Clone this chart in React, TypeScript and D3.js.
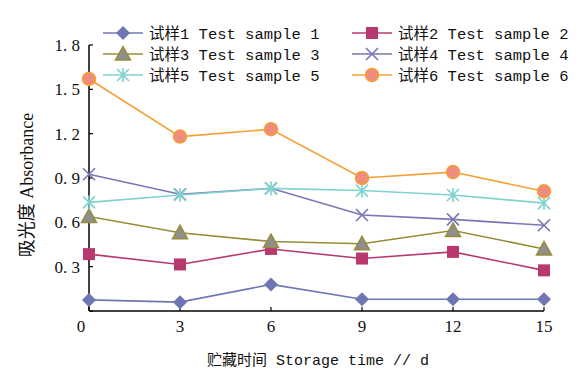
import React from "react";
import * as d3 from "d3";

const days = [0, 3, 6, 9, 12, 15];
const sample1 = [0.075, 0.06, 0.18, 0.08, 0.08, 0.08];
const sample2 = [0.385, 0.315, 0.42, 0.355, 0.4, 0.275];
const sample3 = [0.64, 0.53, 0.47, 0.455, 0.545, 0.42];
const sample4 = [0.925, 0.79, 0.83, 0.65, 0.62, 0.58];
const sample5 = [0.735, 0.785, 0.83, 0.815, 0.785, 0.73];
const sample6 = [1.57, 1.18, 1.23, 0.9, 0.94, 0.81];
const seriesNames = [
  "试样1 Test sample 1",
  "试样2 Test sample 2",
  "试样3 Test sample 3",
  "试样4 Test sample 4",
  "试样5 Test sample 5",
  "试样6 Test sample 6",
];
const yTicks = [0, 0.3, 0.6, 0.9, 1.2, 1.5, 1.8];
const xTicks = [0, 3, 6, 9, 12, 15];

type Style = { line: string; fill: string; marker: string };
const styles: Style[] = [
  { line: "#6f76b4", fill: "#6f76b4", marker: "diamond" },
  { line: "#b8386f", fill: "#b8386f", marker: "square" },
  { line: "#9a8c36", fill: "#8e8e8e", marker: "triangle" },
  { line: "#7876b6", fill: "none", marker: "x" },
  { line: "#7ed3cf", fill: "none", marker: "asterisk" },
  { line: "#f5a034", fill: "#f08c7e", marker: "circle" },
];

function Marker({ x, y, s }: { x: number; y: number; s: Style }) {
  switch (s.marker) {
    case "diamond":
      return <path d={`M${x},${y - 7}L${x + 7},${y}L${x},${y + 7}L${x - 7},${y}Z`} fill={s.fill} />;
    case "square":
      return <rect x={x - 6} y={y - 6} width={12} height={12} fill={s.fill} />;
    case "triangle":
      return (
        <path
          d={`M${x},${y - 7.5}L${x + 7.5},${y + 6}L${x - 7.5},${y + 6}Z`}
          fill={s.fill}
          stroke={s.line}
          strokeWidth={1.5}
        />
      );
    case "x":
      return (
        <path
          d={`M${x - 6},${y - 6}L${x + 6},${y + 6}M${x - 6},${y + 6}L${x + 6},${y - 6}`}
          stroke={s.line}
          strokeWidth={1.6}
        />
      );
    case "asterisk":
      return (
        <path
          d={`M${x - 6},${y - 6}L${x + 6},${y + 6}M${x - 6},${y + 6}L${x + 6},${y - 6}M${x},${y - 7}L${x},${y + 7}`}
          stroke={s.line}
          strokeWidth={1.6}
        />
      );
    default:
      return <circle cx={x} cy={y} r={6.5} fill={s.fill} stroke={s.line} strokeWidth={1.5} />;
  }
}

export default function App() {
  const W = 582;
  const H = 369;
  const x = d3.scaleLinear().domain([0, 15]).range([89, 544]);
  const y = d3.scaleLinear().domain([0, 1.8]).range([311, 45]);
  const all = [sample1, sample2, sample3, sample4, sample5, sample6];
  const line = d3
    .line<number>()
    .x((_, i) => x(days[i]))
    .y((d) => y(d));
  const legendPos = [
    [103, 33],
    [352, 33],
    [103, 54],
    [352, 54],
    [103, 75],
    [352, 75],
  ];
  const serif = "'Liberation Serif', 'Noto Sans CJK SC', serif";
  const mono = "'Liberation Mono', 'Noto Sans CJK SC', monospace";
  return (
    <svg
      width={W}
      height={H}
      style={{ position: "absolute", left: 0, top: 0, background: "#fff" }}
    >
      {/* axes */}
      <line x1={89} y1={y(1.8)} x2={89} y2={311} stroke="#000" strokeWidth={1.5} />
      <line x1={89} y1={311} x2={544} y2={311} stroke="#000" strokeWidth={1.5} />
      {yTicks.map((t) => (
        <g key={"y" + t}>
          <line x1={89} x2={93} y1={y(t)} y2={y(t)} stroke="#000" strokeWidth={1.2} />
          {t !== 0 && (
            <text
              x={80}
              y={y(t) + 6}
              textAnchor="end"
              fontFamily={serif}
              fontSize={17}
              fill="#111"
            >
              {t.toFixed(1).replace(".", ". ")}
            </text>
          )}
        </g>
      ))}
      <text x={81} y={332} textAnchor="middle" fontFamily={serif} fontSize={17} fill="#111">
        0
      </text>
      {xTicks.map((t) => (
        <g key={"x" + t}>
          <line x1={x(t)} x2={x(t)} y1={311} y2={307} stroke="#000" strokeWidth={1.2} />
          {t !== 0 && (
            <text
              x={x(t)}
              y={332}
              textAnchor="middle"
              fontFamily={serif}
              fontSize={17}
              fill="#111"
            >
              {t}
            </text>
          )}
        </g>
      ))}
      <text
        transform={`translate(33,185) rotate(-90)`}
        textAnchor="middle"
        fontFamily={serif}
        fontSize={18}
        fill="#111"
      >
        吸光度 Absorbance
      </text>
      <text x={318} y={365} textAnchor="middle" fontFamily={mono} fontSize={15} fill="#111">
        贮藏时间 Storage time // d
      </text>
      {/* series */}
      {all.map((vals, si) => (
        <g key={"s" + si}>
          <path d={line(vals) || ""} fill="none" stroke={styles[si].line} strokeWidth={1.6} />
          {vals.map((v, i) => (
            <Marker key={i} x={x(days[i])} y={y(v)} s={styles[si]} />
          ))}
        </g>
      ))}
      {/* legend */}
      {seriesNames.map((n, i) => {
        const [lx, ly] = legendPos[i];
        return (
          <g key={"l" + i}>
            <line x1={lx} x2={lx + 40} y1={ly} y2={ly} stroke={styles[i].line} strokeWidth={1.6} />
            <Marker x={lx + 20} y={ly} s={styles[i]} />
            <text x={lx + 46} y={ly + 5.5} fontFamily={mono} fontSize={15.5} fill="#111">
              {n}
            </text>
          </g>
        );
      })}
    </svg>
  );
}
